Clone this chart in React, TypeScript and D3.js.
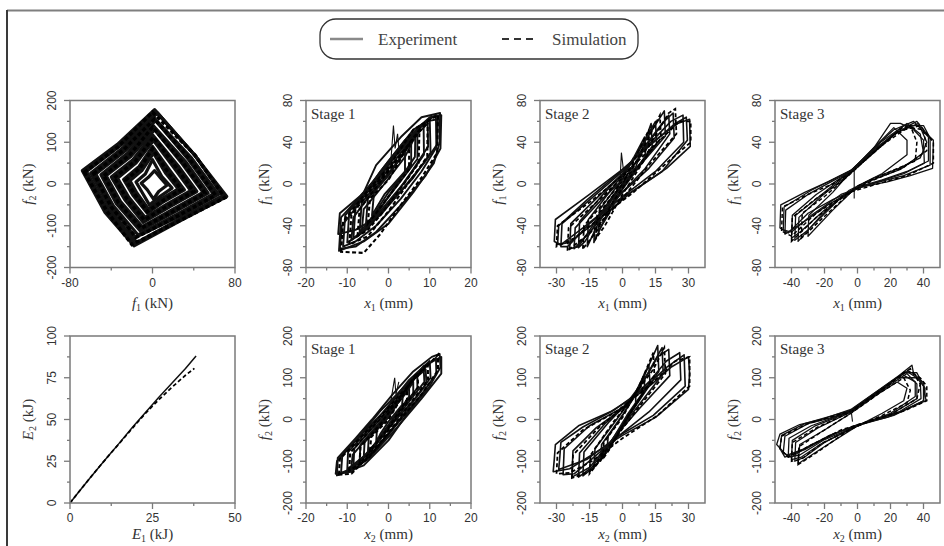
import React, { useEffect, useRef } from 'react';
import * as d3 from 'd3';

type Pt = [number, number];

// ---- biaxial force path f1 vs f2 (kN) ----
const forceLoopsExp: Pt[][] = [
  [[-68, 32], [-34, 95], [2, 178], [40, 72], [72, -30], [30, -84], [-18, -148], [-46, -68]],
  [[-66, 31], [-32, 93], [3, 174], [41, 69], [70, -29], [30, -82], [-17, -144], [-45, -65]],
  [[-64, 30], [-31, 92], [5, 170], [42, 66], [68, -28], [29, -80], [-15, -140], [-43, -62]],
  [[-60, 26], [-29, 86], [0, 162], [38, 62], [64, -25], [27, -76], [-20, -132], [-41, -58]],
  [[-58, 25], [-27, 83], [1, 157], [36, 60], [61, -24], [25, -74], [-17, -127], [-39, -55]],
  [[-55, 24], [-26, 80], [3, 152], [35, 58], [59, -24], [24, -72], [-14, -122], [-38, -52]],
  [[-50, 22], [-24, 74], [0, 142], [32, 54], [54, -22], [22, -66], [-12, -112], [-35, -47]],
  [[-48, 21], [-22, 70], [1, 136], [30, 51], [51, -21], [21, -63], [-11, -107], [-33, -44]],
  [[-45, 20], [-21, 66], [2, 130], [29, 48], [49, -20], [20, -60], [-10, -102], [-31, -42]],
  [[-40, 17], [-19, 58], [0, 118], [25, 43], [43, -18], [17, -54], [-9, -92], [-27, -37]],
  [[-37, 15], [-17, 54], [0, 111], [23, 40], [40, -17], [15, -51], [-8, -86], [-25, -34]],
  [[-34, 14], [-16, 50], [1, 104], [21, 38], [37, -16], [14, -48], [-7, -80], [-23, -32]],
  [[-28, 11], [-13, 42], [0, 90], [17, 32], [31, -14], [11, -42], [-5, -70], [-19, -27]],
  [[-25, 10], [-11, 38], [0, 82], [15, 28], [28, -13], [10, -39], [-5, -65], [-17, -24]],
  [[-22, 8], [-10, 33], [1, 74], [13, 25], [25, -12], [8, -36], [-4, -60], [-15, -22]],
  [[-16, 5], [-7, 24], [0, 58], [9, 18], [19, -10], [6, -32], [-3, -50], [-11, -16]],
  [[-11, 2], [-4, 16], [2, 32], [8, 14], [14, -3], [6, -18], [1, -36], [-5, -14]],
];
const forceLoopsSim: Pt[][] = [
  [[-66, 28], [-33, 90], [0, 172], [41, 70], [70, -33], [28, -86], [-20, -145], [-44, -66]],
  [[-57, 25], [-28, 82], [2, 156], [36, 60], [61, -27], [25, -76], [-16, -128], [-40, -55]],
  [[-47, 20], [-22, 70], [0, 136], [30, 50], [51, -22], [21, -64], [-11, -106], [-33, -45]],
  [[-37, 15], [-17, 54], [1, 112], [23, 40], [40, -18], [15, -52], [-8, -86], [-25, -35]],
  [[-26, 9], [-12, 38], [0, 84], [15, 28], [28, -13], [10, -40], [-5, -66], [-17, -25]],
];

// ---- stage 1, x1 (mm) vs f1 (kN) ----
const s1DirAExp: Pt[][] = [
  [[-12, -64], [-11.5, -32], [-6, -8], [-3, 18], [3, 45], [8, 64], [12.5, 68], [12.4, 40], [11, 20], [6, -8], [0, -38], [-6, -55]],
  [[-11.8, -62], [-11.3, -40], [-7, -18], [-2, 12], [4, 42], [10, 64], [12.8, 66], [12.6, 34], [9, 8], [4, -16], [-3, -46], [-8, -60]],
  [[-11, -60], [-10.5, -30], [-5, -4], [0, 22], [6, 52], [11.5, 66], [11.6, 35], [8, 12], [3, -14], [-3, -40], [-8, -55]],
  [[-10, -56], [-9.5, -26], [-4, -2], [1, 24], [6, 48], [10, 62], [10.2, 30], [6, 6], [0, -20], [-6, -46]],
  [[-9, -54], [-8.5, -32], [-4, -8], [2, 20], [7, 48], [9.5, 58], [9.6, 36], [6, 14], [1, -14], [-5, -42]],
  [[-8.5, -52], [-8, -22], [-3, 2], [2, 28], [8.5, 58], [8.6, 28], [4, 2], [-2, -26], [-6, -44]],
  [[-7, -46], [-6.5, -18], [-2, 4], [3, 30], [7, 50], [7, 24], [2, -2], [-3, -28]],
  [[-6.5, -46], [-6, -24], [-1, 0], [4, 26], [6.5, 46], [6.4, 26], [2, 0], [-3, -30]],
  [[-5.5, -40], [-5, -14], [0, 8], [5.5, 42], [5.5, 18], [0, -8], [-3, -26]],
  [[-4, -30], [-3.5, -8], [1, 14], [4, 32], [4, 12], [-1, -10]],
  [[-12.2, -48], [-11.8, -28], [-7, -12], [-2, 10], [4, 40], [9, 60], [12, 62], [11.8, 38], [9, 22], [4, -2], [-2, -30], [-8, -44]],
];
const s1DirASpike: Pt[] = [[0.5, 18], [1.2, 56], [1.6, 34], [2.2, 48], [2.6, 30]];
const s1DirASim: Pt[][] = [
  [[-11.5, -65], [-11, -36], [-5, -6], [0, 16], [6, 52], [12, 66], [11.8, 30], [8, 6], [3, -20], [-2, -48], [-6, -66]],
  [[-9.5, -58], [-9, -30], [-4, -4], [1, 18], [9.5, 60], [9.4, 26], [5, 2], [0, -26], [-5, -50]],
  [[-7.5, -50], [-7, -24], [-2, 2], [7.5, 52], [7.3, 20], [3, -4], [-2, -30], [-5, -44]],
  [[-5, -38], [-4.5, -14], [0, 4], [5, 38], [5, 14], [0, -12], [-3, -28]],
];

// ---- stage 2, x1 vs f1 ----
const s2DirAExp: Pt[][] = [
  [[-31, -55], [-30.5, -34], [-15, -10], [0, 14], [15, 42], [25, 58], [30.5, 62], [30.8, 36], [20, 15], [8, -2], [-5, -20], [-18, -42], [-28, -58]],
  [[-29.5, -58], [-29, -40], [-16, -15], [-2, 10], [12, 36], [24, 58], [29, 64], [29.5, 42], [18, 12], [4, -8], [-12, -36], [-24, -56]],
  [[-28, -60], [-27.5, -38], [-12, -10], [0, 12], [12, 38], [22, 60], [27.5, 66], [27.8, 40], [15, 12], [0, -12], [-15, -38], [-25, -60]],
  [[-24, -62], [-23.5, -38], [-10, -10], [0, 10], [10, 36], [18, 58], [23, 68], [23.5, 44], [12, 15], [0, -8], [-12, -35], [-20, -60]],
  [[-22, -62], [-21.5, -42], [-10, -16], [2, 8], [12, 40], [21, 66], [21.5, 48], [10, 14], [-2, -12], [-14, -44]],
  [[-20, -61], [-19.5, -36], [-8, -8], [2, 14], [10, 40], [19, 70], [19.5, 46], [8, 18], [-2, -6], [-10, -30], [-17, -55]],
  [[-16, -60], [-15.5, -34], [-5, -5], [4, 20], [15, 60], [15.5, 38], [5, 12], [-4, -12], [-12, -42]],
  [[-13, -56], [-12.5, -36], [-4, -10], [6, 16], [13, 58], [13.5, 36], [4, 8], [-6, -24]],
  [[-11, -45], [-10.5, -25], [0, 5], [10, 45], [10.5, 25], [0, -5], [-8, -35]],
  [[-5, -20], [0, 8], [5, 25], [4, 8], [-1, -5]],
];
const s2DirASpike: Pt[] = [[-1, 8], [-0.5, 30], [0.5, 12]];
const s2DirASim: Pt[][] = [
  [[-30, -60], [-29.5, -40], [-14, -16], [0, 8], [14, 36], [26, 60], [31, 60], [31, 40], [20, 20], [5, -8], [-10, -32], [-22, -52]],
  [[-25, -64], [-24.5, -42], [-10, -14], [0, 6], [12, 36], [21, 68], [24, 72], [24.5, 48], [12, 18], [0, -14], [-12, -42]],
  [[-18, -62], [-17.5, -40], [-6, -12], [4, 12], [17, 66], [17.5, 44], [6, 14], [-4, -16], [-12, -46]],
  [[-12, -52], [-11.5, -30], [0, 0], [12, 52], [12, 30], [0, -10], [-8, -40]],
];

// ---- stage 3, x1 vs f1 ----
const s3DirAExp: Pt[][] = [
  [[-47, -42], [-46.5, -20], [-32, -8], [-18, 2], [-4, 13], [8, 28], [20, 45], [30, 55], [36, 60], [42, 48], [46, 42], [45.5, 15], [32, 8], [18, 2], [2, -3], [-15, -15], [-30, -28], [-42, -47]],
  [[-45, -44], [-44.5, -22], [-28, -6], [-4, 13], [10, 32], [28, 56], [40, 56], [44, 44], [44, 18], [28, 8], [8, 0], [-10, -10], [-28, -30], [-40, -46]],
  [[-44, -48], [-43.5, -25], [-30, -10], [-15, 3], [-4, 12], [8, 30], [20, 58], [26, 58], [34, 52], [40, 42], [40.5, 20], [28, 10], [14, 3], [0, -4], [-18, -20], [-34, -38]],
  [[-40, -52], [-39.5, -30], [-25, -10], [-10, 6], [-3, 14], [10, 35], [22, 52], [34, 60], [43, 45], [43, 22], [30, 12], [15, 4], [-2, -4], [-20, -25], [-34, -45]],
  [[-38, -54], [-37.5, -30], [-20, -8], [-4, 13], [14, 40], [30, 58], [38, 48], [40, 30], [26, 14], [6, 2], [-12, -16], [-30, -44]],
  [[-36, -55], [-35.5, -32], [-22, -12], [-8, 6], [-3, 14], [12, 36], [25, 50], [37, 58], [42, 40], [38, 25], [25, 15], [10, 6], [-5, -6], [-22, -30]],
  [[-30, -50], [-29.5, -30], [-15, -8], [-4, 12], [12, 38], [22, 54], [30, 42], [30, 28], [15, 10], [0, -2], [-15, -25]],
];
const s3DirASpike: Pt[] = [[-2, 15], [-2, -14]];
const s3DirASim: Pt[][] = [
  [[-46, -45], [-45.5, -22], [-30, -10], [-15, 0], [-4, 11], [10, 30], [24, 50], [38, 56], [46, 40], [46, 20], [30, 8], [12, 0], [-5, -8], [-25, -28], [-40, -50]],
  [[-40, -55], [-39.5, -32], [-25, -14], [-10, 2], [-3, 12], [12, 33], [28, 55], [40, 52], [42, 32], [28, 16], [10, 4], [-5, -8], [-25, -32]],
  [[-34, -52], [-33.5, -28], [-20, -12], [-4, 10], [12, 34], [32, 56], [36, 40], [35, 22], [20, 12], [0, -2], [-18, -28]],
];

// ---- stage 1, x2 vs f2 ----
const s1DirBExp: Pt[][] = [
  [[-12.5, -134], [-12.3, -92], [-8, -45], [-4, 0], [1, 60], [6, 115], [10.5, 150], [12.4, 157], [12.6, 125], [10, 80], [5, 20], [0, -50], [-6, -110]],
  [[-12.8, -130], [-12.5, -100], [-7, -40], [-2, 20], [4, 80], [9, 130], [12.8, 150], [12.8, 110], [8, 50], [2, -20], [-4, -85], [-9, -125]],
  [[-11.5, -128], [-11.2, -85], [-6, -30], [0, 30], [5, 90], [11.5, 148], [11.6, 110], [8, 60], [3, 0], [-2, -60], [-7, -110]],
  [[-10, -120], [-9.8, -78], [-4, -15], [1, 45], [5, 95], [10, 140], [10.2, 100], [6, 45], [0, -20], [-5, -80]],
  [[-9, -115], [-8.7, -85], [-4, -30], [2, 40], [6, 95], [9, 120], [9.2, 85], [5, 30], [0, -35], [-5, -95]],
  [[-8.5, -112], [-8.3, -70], [-3, -10], [3, 55], [8.5, 128], [8.7, 90], [4, 30], [-1, -35], [-5, -85]],
  [[-7, -100], [-6.8, -60], [-2, -5], [3, 50], [7, 110], [7, 75], [2, 15], [-3, -55]],
  [[-6, -90], [-5.8, -55], [-1, 0], [4, 60], [6, 90], [6, 60], [1, 0], [-3, -60]],
  [[-5, -80], [-4.8, -45], [0, 5], [5, 85], [5, 55], [0, -15], [-3, -55]],
  [[-3, -55], [-2.8, -25], [1, 20], [3.5, 60], [3.3, 35], [0, -5], [-2, -35]],
];
const s1DirBSpike: Pt[] = [[0.5, 40], [1.5, 100], [1.8, 60], [2.5, 90]];
const s1DirBSim: Pt[][] = [
  [[-12, -132], [-11.8, -95], [-6, -35], [0, 28], [6, 95], [12, 155], [12, 118], [8, 60], [2, -10], [-4, -80], [-9, -130]],
  [[-9.5, -122], [-9.3, -80], [-4, -20], [1, 35], [9.5, 135], [9.6, 95], [5, 35], [-1, -45], [-5, -95]],
  [[-7, -105], [-6.8, -65], [-2, -12], [7, 112], [7.2, 78], [3, 20], [-2, -55]],
  [[-4.5, -75], [-4.2, -42], [0, 0], [4.5, 75], [4.5, 48], [0, -20]],
];

// ---- stage 2, x2 vs f2 ----
const s2DirBExp: Pt[][] = [
  [[-31.5, -125], [-31, -95], [-30.5, -60], [-20, -15], [-5, 20], [10, 70], [22, 125], [30, 150], [30.5, 110], [30, 72], [15, 5], [0, -38], [-12, -78], [-24, -118]],
  [[-29, -120], [-28.5, -90], [-28, -55], [-18, -18], [-4, 22], [10, 75], [20, 125], [28, 155], [28.5, 80], [14, 10], [-2, -40], [-16, -95]],
  [[-27, -132], [-26.5, -70], [-15, -15], [0, 28], [12, 90], [20, 140], [26, 160], [26.5, 95], [12, 18], [0, -32], [-14, -95], [-22, -130]],
  [[-23, -138], [-22.5, -75], [-12, -20], [0, 26], [10, 95], [16, 150], [21, 168], [21.5, 105], [8, 28], [-3, -38], [-15, -115]],
  [[-20, -138], [-19.5, -80], [-8, -10], [4, 45], [12, 115], [18, 172], [18.5, 110], [6, 25], [-4, -45], [-14, -115]],
  [[-18, -135], [-17.5, -78], [-6, -5], [5, 55], [12, 130], [16, 177], [16.5, 115], [5, 25], [-5, -50], [-12, -110]],
  [[-13, -115], [-12.5, -70], [-2, 5], [7, 70], [12, 130], [12.5, 85], [3, 15], [-6, -70]],
  [[-10, -100], [-9.5, -60], [0, 10], [8, 75], [10, 110], [10, 70], [2, 10], [-6, -60]],
  [[-7, -70], [-6.5, -40], [0, 10], [6, 65], [6, 35], [0, -15], [-4, -50]],
];
const s2DirBSim: Pt[][] = [
  [[-30, -130], [-29.5, -80], [-18, -25], [-3, 18], [12, 80], [24, 140], [30.5, 150], [30.5, 80], [16, 10], [0, -45], [-14, -100], [-24, -128]],
  [[-23, -140], [-22.5, -85], [-10, -15], [2, 35], [14, 120], [19, 172], [19.5, 110], [6, 20], [-4, -50], [-15, -125]],
  [[-15, -130], [-14.5, -85], [-4, -5], [6, 60], [14, 160], [14.5, 105], [4, 20], [-6, -70]],
  [[-9, -95], [-8.5, -55], [0, 5], [9, 95], [9, 60], [0, -15], [-5, -65]],
];

// ---- stage 3, x2 vs f2 ----
const s3DirBExp: Pt[][] = [
  [[-49, -60], [-47, -35], [-35, -12], [-22, 0], [-4, 24], [12, 68], [25, 105], [33, 130], [34, 110], [40, 88], [41.5, 45], [30, 25], [18, 5], [0, -12], [-18, -40], [-32, -70], [-43, -86]],
  [[-47, -70], [-46, -38], [-32, -10], [-4, 22], [12, 66], [28, 112], [36, 112], [40, 80], [40, 45], [24, 15], [5, -8], [-15, -35], [-32, -72], [-44, -90]],
  [[-45, -80], [-44, -40], [-30, -10], [-15, 5], [-4, 22], [10, 62], [22, 95], [30, 115], [38, 95], [38.5, 50], [25, 18], [8, -2], [-10, -28], [-28, -60], [-40, -90]],
  [[-42, -90], [-41.5, -45], [-28, -15], [-12, 8], [-4, 20], [12, 65], [24, 100], [36, 100], [41, 75], [40, 45], [22, 10], [2, -12], [-20, -48], [-35, -85]],
  [[-40, -96], [-39.5, -50], [-26, -16], [-4, 19], [14, 68], [30, 110], [36, 85], [36, 50], [20, 12], [0, -14], [-22, -58], [-34, -90]],
  [[-38, -100], [-37.5, -55], [-24, -20], [-4, 18], [14, 70], [27, 108], [35, 90], [35, 55], [20, 15], [0, -15], [-20, -55], [-32, -90]],
  [[-36, -106], [-35, -60], [-20, -25], [-4, 15], [12, 60], [24, 90], [30, 75], [28, 45], [15, 15], [-2, -20], [-22, -70]],
];
const s3DirBSpike: Pt[] = [[-4, 25], [-3, -5]];
const s3DirBSim: Pt[][] = [
  [[-47, -70], [-46, -40], [-30, -10], [-4, 20], [12, 65], [30, 118], [38, 100], [42, 80], [42, 45], [28, 20], [10, 0], [-10, -25], [-30, -65], [-42, -90]],
  [[-40, -100], [-39.5, -55], [-24, -18], [-4, 18], [14, 68], [32, 122], [38, 85], [36, 50], [20, 12], [0, -15], [-22, -58], [-34, -95]],
  [[-36, -108], [-35.5, -65], [-18, -20], [-4, 15], [14, 65], [28, 100], [32, 70], [30, 40], [15, 10], [-5, -25], [-25, -80]],
];

// ---- dissipated energy E1 vs E2 (kJ) ----
const energyExp: Pt[] = [[0, 0], [3, 7.5], [6, 14.8], [9, 22], [12, 29], [15, 36], [19, 45.5], [23, 54.5], [27, 63.5], [31, 72], [35, 80.5], [38.2, 88]];
const energySim: Pt[] = [[0, 0], [3, 7.5], [6, 14.8], [9, 22], [12, 29], [15, 35.8], [19, 45], [23, 54], [27, 62], [31, 69.5], [35, 76.5], [37.7, 80.6]];

// ---- tick values ----
const f1WideTicks = [-80, 0, 80];
const f1WideMinor = [-40, 40];
const f2Ticks = [-200, -100, 0, 100, 200];
const f2Minor = [-150, -50, 50, 150];
const f1Ticks = [-80, -40, 0, 40, 80];
const f1Minor = [-60, -20, 20, 60];
const xStage1Ticks = [-20, -10, 0, 10, 20];
const xStage1Minor = [-15, -5, 5, 15];
const xStage2Ticks = [-30, -15, 0, 15, 30];
const xStage2Minor = [-22.5, -7.5, 7.5, 22.5];
const xStage3Ticks = [-40, -20, 0, 20, 40];
const xStage3Minor = [-30, -10, 10, 30];
const e1Ticks = [0, 25, 50];
const e1Minor = [12.5, 37.5];
const e2Ticks = [0, 25, 50, 75, 100];
const e2Minor = [12.5, 37.5, 62.5, 87.5];

interface Panel {
  col: number;
  row: number;
  xDomain: [number, number];
  yDomain: [number, number];
  xTicks: number[];
  xMinor: number[];
  yTicks: number[];
  yMinor: number[];
  xLab: [string, string, string];
  yLab: [string, string, string];
  stage?: string;
  exp: Pt[][];
  sim: Pt[][];
  closed: boolean;
  spike?: Pt[];
  lw?: number;
}

const panels: Panel[] = [
  { col: 0, row: 0, xDomain: [-80, 80], yDomain: [-200, 200], xTicks: f1WideTicks, xMinor: f1WideMinor, yTicks: f2Ticks, yMinor: f2Minor,
    xLab: ['f', '1', ' (kN)'], yLab: ['f', '2', ' (kN)'], exp: forceLoopsExp, sim: forceLoopsSim, closed: true, lw: 3.2 },
  { col: 1, row: 0, xDomain: [-20, 20], yDomain: [-80, 80], xTicks: xStage1Ticks, xMinor: xStage1Minor, yTicks: f1Ticks, yMinor: f1Minor,
    xLab: ['x', '1', ' (mm)'], yLab: ['f', '1', ' (kN)'], stage: 'Stage 1', exp: s1DirAExp, sim: s1DirASim, closed: true, spike: s1DirASpike, lw: 1.9 },
  { col: 2, row: 0, xDomain: [-37.5, 37.5], yDomain: [-80, 80], xTicks: xStage2Ticks, xMinor: xStage2Minor, yTicks: f1Ticks, yMinor: f1Minor,
    xLab: ['x', '1', ' (mm)'], yLab: ['f', '1', ' (kN)'], stage: 'Stage 2', exp: s2DirAExp, sim: s2DirASim, closed: true, spike: s2DirASpike, lw: 1.6 },
  { col: 3, row: 0, xDomain: [-50, 50], yDomain: [-80, 80], xTicks: xStage3Ticks, xMinor: xStage3Minor, yTicks: f1Ticks, yMinor: f1Minor,
    xLab: ['x', '1', ' (mm)'], yLab: ['f', '1', ' (kN)'], stage: 'Stage 3', exp: s3DirAExp, sim: s3DirASim, closed: true, spike: s3DirASpike, lw: 1.3 },
  { col: 0, row: 1, xDomain: [0, 50], yDomain: [0, 100], xTicks: e1Ticks, xMinor: e1Minor, yTicks: e2Ticks, yMinor: e2Minor,
    xLab: ['E', '1', ' (kJ)'], yLab: ['E', '2', ' (kJ)'], exp: [energyExp], sim: [energySim], closed: false, lw: 1.5 },
  { col: 1, row: 1, xDomain: [-20, 20], yDomain: [-200, 200], xTicks: xStage1Ticks, xMinor: xStage1Minor, yTicks: f2Ticks, yMinor: f2Minor,
    xLab: ['x', '2', ' (mm)'], yLab: ['f', '2', ' (kN)'], stage: 'Stage 1', exp: s1DirBExp, sim: s1DirBSim, closed: true, spike: s1DirBSpike, lw: 1.9 },
  { col: 2, row: 1, xDomain: [-37.5, 37.5], yDomain: [-200, 200], xTicks: xStage2Ticks, xMinor: xStage2Minor, yTicks: f2Ticks, yMinor: f2Minor,
    xLab: ['x', '2', ' (mm)'], yLab: ['f', '2', ' (kN)'], stage: 'Stage 2', exp: s2DirBExp, sim: s2DirBSim, closed: true, lw: 1.6 },
  { col: 3, row: 1, xDomain: [-50, 50], yDomain: [-200, 200], xTicks: xStage3Ticks, xMinor: xStage3Minor, yTicks: f2Ticks, yMinor: f2Minor,
    xLab: ['x', '2', ' (mm)'], yLab: ['f', '2', ' (kN)'], stage: 'Stage 3', exp: s3DirBExp, sim: s3DirBSim, closed: true, spike: s3DirBSpike, lw: 1.3 },
];

const colLeft = [70, 306, 540, 775];
const rowTop = [100.5, 336];
const titleGap = [40, 36];
const plotW = 165;
const plotH = 167;

const serif = '"Liberation Serif", "Times New Roman", serif';
const sans = '"Liberation Sans", Arial, sans-serif';

const App: React.FC = () => {
  const ref = useRef<SVGSVGElement | null>(null);

  useEffect(() => {
    if (!ref.current) return;
    const svg = d3.select(ref.current);
    svg.selectAll('*').remove();

    // outer frame (top and left edges visible)
    svg.append('line').attr('x1', 7).attr('x2', 944).attr('y1', 10.5).attr('y2', 10.5)
      .attr('stroke', '#7f7f7f').attr('stroke-width', 2);
    svg.append('line').attr('x1', 7).attr('x2', 7).attr('y1', 10).attr('y2', 546)
      .attr('stroke', '#3a3a3a').attr('stroke-width', 2);

    // legend
    const lg = svg.append('g');
    lg.append('rect').attr('x', 320).attr('y', 19).attr('width', 318).attr('height', 40).attr('rx', 16)
      .attr('fill', 'none').attr('stroke', '#333').attr('stroke-width', 1.3);
    lg.append('line').attr('x1', 330).attr('x2', 363).attr('y1', 39).attr('y2', 39)
      .attr('stroke', '#8a8a8a').attr('stroke-width', 2.5);
    lg.append('text').attr('x', 378).attr('y', 45).text('Experiment')
      .style('font-family', serif).style('font-size', '17px').attr('fill', '#444');
    lg.append('line').attr('x1', 502).attr('x2', 534).attr('y1', 39).attr('y2', 39)
      .attr('stroke', '#333').attr('stroke-width', 2).attr('stroke-dasharray', '7,5');
    lg.append('text').attr('x', 552).attr('y', 45).text('Simulation')
      .style('font-family', serif).style('font-size', '17px').attr('fill', '#444');

    const addLabel = (
      g: d3.Selection<SVGTextElement, unknown, null, undefined>,
      lab: [string, string, string]
    ) => {
      g.append('tspan').style('font-style', 'italic').text(lab[0]);
      g.append('tspan').attr('dy', 3).style('font-size', '10px').text(lab[1]);
      g.append('tspan').attr('dy', -3).text(lab[2]);
    };

    panels.forEach((p, i) => {
      const left = colLeft[p.col];
      const top = rowTop[p.row];
      const x = d3.scaleLinear().domain(p.xDomain).range([left, left + plotW]);
      const y = d3.scaleLinear().domain(p.yDomain).range([top + plotH, top]);
      const g = svg.append('g');

      const clipId = `clip-${i}`;
      svg.append('clipPath').attr('id', clipId).append('rect')
        .attr('x', left).attr('y', top).attr('width', plotW).attr('height', plotH);

      const line = d3.line<Pt>().x(d => x(d[0])).y(d => y(d[1]))
        .curve(p.closed ? d3.curveLinearClosed : d3.curveLinear);
      const open = d3.line<Pt>().x(d => x(d[0])).y(d => y(d[1]));
      const data = g.append('g').attr('clip-path', `url(#${clipId})`);
      const lw = p.lw || 1.1;

      p.exp.forEach(loop => {
        data.append('path').attr('d', line(loop) || '').attr('fill', 'none')
          .attr('stroke', '#111').attr('stroke-width', lw).attr('stroke-linejoin', 'round');
      });
      p.sim.forEach(loop => {
        data.append('path').attr('d', line(loop) || '').attr('fill', 'none')
          .attr('stroke', '#000').attr('stroke-width', lw + 0.2).attr('stroke-dasharray', '4,2.5');
      });
      if (p.spike) {
        data.append('path').attr('d', open(p.spike) || '').attr('fill', 'none')
          .attr('stroke', '#111').attr('stroke-width', 1.1);
      }

      // frame
      g.append('rect').attr('x', left).attr('y', top).attr('width', plotW).attr('height', plotH)
        .attr('fill', 'none').attr('stroke', '#7a7a7a').attr('stroke-width', 1.5);

      const bottom = top + plotH;
      // x ticks
      p.xTicks.forEach(t => {
        g.append('line').attr('x1', x(t)).attr('x2', x(t)).attr('y1', bottom).attr('y2', bottom + 6)
          .attr('stroke', '#7a7a7a').attr('stroke-width', 1.3);
        g.append('text').attr('x', x(t)).attr('y', bottom + 19).attr('text-anchor', 'middle')
          .style('font-family', sans).style('font-size', '12px').attr('fill', '#333').text(String(t));
      });
      p.xMinor.forEach(t => {
        g.append('line').attr('x1', x(t)).attr('x2', x(t)).attr('y1', bottom).attr('y2', bottom + 3)
          .attr('stroke', '#7a7a7a').attr('stroke-width', 1.3);
      });
      // y ticks
      p.yTicks.forEach(t => {
        g.append('line').attr('x1', left - 6).attr('x2', left).attr('y1', y(t)).attr('y2', y(t))
          .attr('stroke', '#7a7a7a').attr('stroke-width', 1.3);
        g.append('text').attr('transform', `translate(${left - 14},${y(t)}) rotate(-90)`)
          .attr('text-anchor', 'middle')
          .style('font-family', sans).style('font-size', '12px').attr('fill', '#333').text(String(t));
      });
      p.yMinor.forEach(t => {
        g.append('line').attr('x1', left - 3).attr('x2', left).attr('y1', y(t)).attr('y2', y(t))
          .attr('stroke', '#7a7a7a').attr('stroke-width', 1.3);
      });

      // axis titles
      const xt = g.append('text').attr('x', left + plotW / 2).attr('y', bottom + titleGap[p.row])
        .attr('text-anchor', 'middle')
        .style('font-family', serif).style('font-size', '15px').attr('fill', '#333');
      addLabel(xt, p.xLab);
      const yt = g.append('text')
        .attr('transform', `translate(${left - 37},${top + plotH / 2}) rotate(-90)`)
        .attr('text-anchor', 'middle')
        .style('font-family', serif).style('font-size', '15px').attr('fill', '#333');
      addLabel(yt, p.yLab);

      if (p.stage) {
        g.append('text').attr('x', left + 5).attr('y', top + 18).text(p.stage)
          .style('font-family', serif).style('font-size', '15px').attr('fill', '#333');
      }
    });
  }, []);

  return (
    <svg ref={ref} width={944} height={546}
      style={{ position: 'absolute', left: 0, top: 0, background: '#fff' }} />
  );
};

export default App;
